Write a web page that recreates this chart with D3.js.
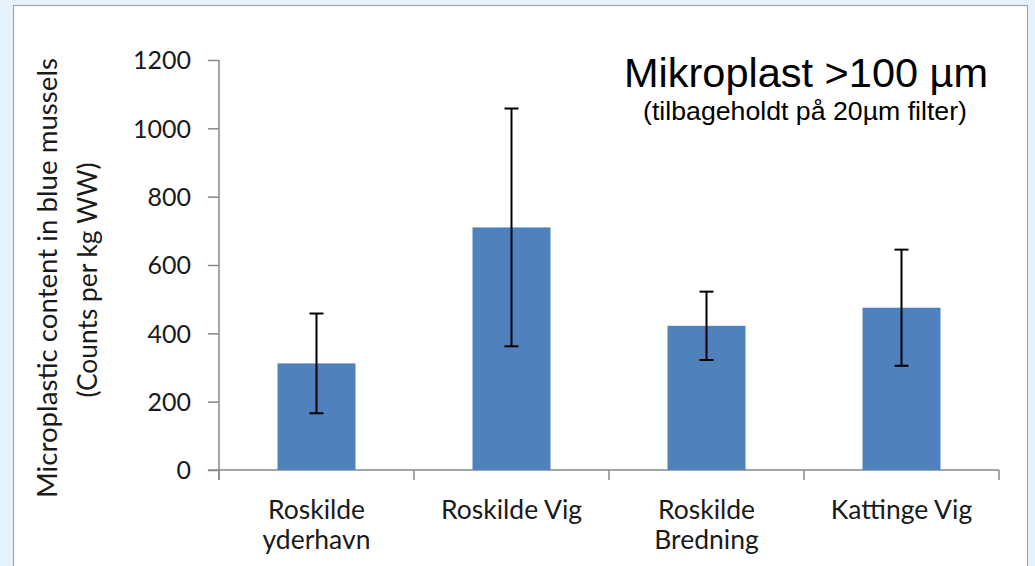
<!DOCTYPE html>
<html>
<head>
<meta charset="utf-8">
<script src="https://cdn.jsdelivr.net/npm/d3@7"></script>
<style>
  html, body { margin: 0; padding: 0; background: #e6f2fc; }
  svg { display: block; }
</style>
</head>
<body>
<svg id="chart" width="1035" height="566"></svg>
<script>
const categories = [["Roskilde", "yderhavn"], ["Roskilde Vig"], ["Roskilde", "Bredning"], ["Kattinge Vig"]];
const values = [312, 710, 422, 475];
const errors = [146, 348, 100, 170];
const yTicks = [0, 200, 400, 600, 800, 1000, 1200];
const title = "Mikroplast >100 µm";
const subtitle = "(tilbageholdt på 20µm filter)";
const yLabel = ["Microplastic content in blue mussels", "(Counts per kg WW)"];

(function () {
const svg = d3.select("#chart");

// chart frame
svg.append("rect").attr("x", 13.5).attr("y", 5.5).attr("width", 1014).attr("height", 580)
  .attr("fill", "#ffffff").attr("stroke", "#a6a6a6").attr("stroke-width", 1.2);

const pLeft = 219, pRight = 999, pTop = 60, pBottom = 470;
const keys = categories.map((c, i) => i);
const x = d3.scaleBand().domain(keys).range([pLeft, pRight]).paddingInner(0.6).paddingOuter(0.3);
const y = d3.scaleLinear().domain([0, 1200]).range([pBottom, pTop]);

const axisColor = "#898989";
const textColor = "#1a1a1a";
const font = "Lato, 'Open Sans', sans-serif";

// fit helper: scale font size so the text spans the given length
function fit(sel, target) {
  const fs = parseFloat(sel.style("font-size"));
  const w = sel.node().getComputedTextLength();
  if (w > 0) sel.style("font-size", (fs * target / w).toFixed(2) + "px");
}

// y axis
const yAxis = svg.append("g").attr("transform", `translate(${pLeft},0)`)
  .call(d3.axisLeft(y).tickValues(yTicks).tickFormat(d3.format("d")).tickSize(11).tickPadding(17));
yAxis.select(".domain").attr("stroke", axisColor).attr("stroke-width", 1.5)
  .attr("d", `M0,${pTop}V${pBottom + 10}`);
yAxis.selectAll(".tick line").attr("stroke", axisColor).attr("stroke-width", 1.5);
yAxis.selectAll(".tick text").attr("fill", textColor).style("font-family", font)
  .style("font-size", "25px").attr("dy", "0.35em");

// x axis line and boundary ticks
const step = x.step();
const bounds = d3.range(categories.length + 1).map(i => pLeft + i * step);
const xg = svg.append("g");
xg.append("line").attr("x1", pLeft - 11).attr("x2", pRight).attr("y1", y(0)).attr("y2", y(0))
  .attr("stroke", axisColor).attr("stroke-width", 1.5);
xg.selectAll("line.bt").data(bounds).enter().append("line").attr("class", "bt")
  .attr("x1", d => d).attr("x2", d => d).attr("y1", y(0)).attr("y2", y(0) + 10)
  .attr("stroke", axisColor).attr("stroke-width", 1.5);

// bars
svg.append("g").selectAll("rect").data(values).enter().append("rect")
  .attr("x", (d, i) => x(i)).attr("width", x.bandwidth())
  .attr("y", d => y(d)).attr("height", d => y(0) - y(d))
  .attr("fill", "#4f81bd");

// error bars
const eb = svg.append("g").attr("stroke", "#000").attr("stroke-width", 2);
values.forEach((v, i) => {
  const cx = x(i) + x.bandwidth() / 2;
  eb.append("line").attr("x1", cx).attr("x2", cx).attr("y1", y(v + errors[i])).attr("y2", y(v - errors[i]));
  [v + errors[i], v - errors[i]].forEach(e => {
    eb.append("line").attr("x1", cx - 7).attr("x2", cx + 7).attr("y1", y(e)).attr("y2", y(e));
  });
});

// category labels
categories.forEach((lines, i) => {
  const cx = x(i) + x.bandwidth() / 2;
  const t = svg.append("text").attr("x", cx).attr("y", 519).attr("text-anchor", "middle")
    .attr("fill", textColor).style("font-family", font).style("font-size", "26.5px");
  lines.forEach((l, j) => t.append("tspan").attr("x", cx).attr("dy", j === 0 ? 0 : 30).text(l));
});

// y label
const yl1 = svg.append("text").attr("transform", "translate(57,278) rotate(-90)")
  .attr("text-anchor", "middle").attr("fill", textColor)
  .style("font-family", font).style("font-size", "24px").text(yLabel[0]);
fit(yl1, 440);
const yl2 = svg.append("text").attr("transform", "translate(97,280) rotate(-90)")
  .attr("text-anchor", "middle").attr("fill", textColor)
  .style("font-family", font).style("font-size", "24px").text(yLabel[1]);
fit(yl2, 235);

// title
svg.append("text").attr("x", 806).attr("y", 87).attr("text-anchor", "middle")
  .style("font-family", "'Liberation Sans', Arial, sans-serif").style("font-size", "41.5px")
  .attr("fill", "#000").text(title);
const st = svg.append("text").attr("x", 805).attr("y", 120).attr("text-anchor", "middle")
  .style("font-family", "'Liberation Sans', Arial, sans-serif").style("font-size", "22px")
  .attr("fill", "#000").text(subtitle);
fit(st, 324);
})();
</script>
</body>
</html>
